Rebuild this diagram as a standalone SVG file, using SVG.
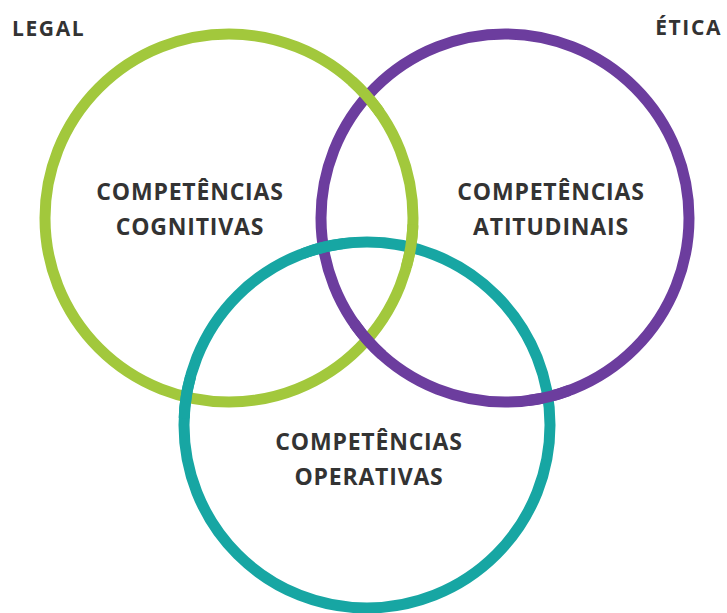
<svg xmlns="http://www.w3.org/2000/svg" width="727" height="613" viewBox="0 0 727 613">
<defs>
<style>
.ring{fill:none;stroke-width:11}
.g{stroke:#a2c83c}
.p{stroke:#6c3d9e}
.t{stroke:#17a6a3}
.lbl{font-family:"Open Sans","Liberation Sans",sans-serif;font-weight:700;font-size:23px;fill:#333333;text-anchor:middle;letter-spacing:0.8px}
.corner{font-family:"Open Sans","Liberation Sans",sans-serif;font-weight:700;font-size:21px;fill:#333333;letter-spacing:1.6px}
</style>
<clipPath id="cG"><circle cx="367" cy="96" r="22"/><circle cx="411" cy="246" r="22"/></clipPath>
<clipPath id="cP"><circle cx="367" cy="340" r="22"/><circle cx="549" cy="397" r="22"/></clipPath>
<clipPath id="cT"><circle cx="323" cy="246" r="22"/><circle cx="185" cy="397" r="22"/></clipPath>
</defs>
<rect width="727" height="613" fill="#ffffff"/>
<text class="corner" x="12" y="36">LEGAL</text>
<text class="corner" x="722" y="35" text-anchor="end">ÉTICA</text>
<g id="node-cognitivas">
<circle class="ring g" cx="229" cy="218" r="184"/>
<text class="lbl" x="190" y="200">COMPETÊNCIAS</text>
<text class="lbl" x="190" y="235">COGNITIVAS</text>
</g>
<g id="node-atitudinais">
<circle class="ring p" cx="505" cy="218" r="184"/>
<text class="lbl" x="551" y="200">COMPETÊNCIAS</text>
<text class="lbl" x="551" y="235">ATITUDINAIS</text>
</g>
<g id="node-operativas">
<circle class="ring t" cx="367" cy="425" r="183"/>
<text class="lbl" x="369" y="450">COMPETÊNCIAS</text>
<text class="lbl" x="369" y="485">OPERATIVAS</text>
</g>
<g id="connectors">
<circle class="ring g" cx="229" cy="218" r="184" clip-path="url(#cG)"/>
<circle class="ring p" cx="505" cy="218" r="184" clip-path="url(#cP)"/>
<circle class="ring t" cx="367" cy="425" r="183" clip-path="url(#cT)"/>
</g>
</svg>
